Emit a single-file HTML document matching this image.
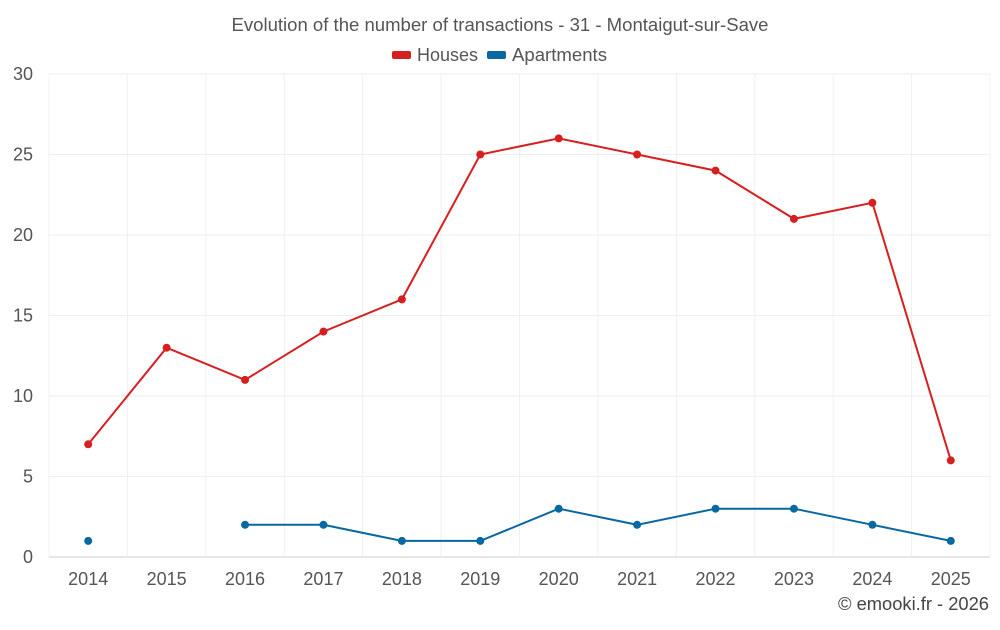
<!DOCTYPE html>
<html><head><meta charset="utf-8"><style>
body{margin:0;background:#fff;font-family:"Liberation Sans",sans-serif}
svg text{font-family:"Liberation Sans",sans-serif}
</style></head><body>
<svg id="chart" width="1000" height="625" xmlns="http://www.w3.org/2000/svg">
<text x="500" y="31" text-anchor="middle" font-size="18" fill="#555" textLength="537" lengthAdjust="spacingAndGlyphs">Evolution of the number of transactions - 31 - Montaigut-sur-Save</text>
<g><rect x="392" y="51" width="19" height="8" rx="2" fill="#d62020"/><text x="417" y="61" font-size="18" fill="#555" textLength="61" lengthAdjust="spacingAndGlyphs">Houses</text></g>
<g><rect x="487" y="51" width="19" height="8" rx="2" fill="#0868a0"/><text x="512" y="61" font-size="18" fill="#555" textLength="95" lengthAdjust="spacingAndGlyphs">Apartments</text></g>
<g id="grid"></g><g id="axes"></g><g id="series"></g>
<text x="989" y="610" text-anchor="end" font-size="18" fill="#444" textLength="151" lengthAdjust="spacingAndGlyphs">© emooki.fr - 2026</text>
</svg>
<script>
const categories=["2014","2015","2016","2017","2018","2019","2020","2021","2022","2023","2024","2025"];
const houses=[7,13,11,14,16,25,26,25,24,21,22,6];
const apartments=[1,null,2,2,1,1,3,2,3,3,2,1];
const yTicks=[0,5,10,15,20,25,30];
const L=49,R=990,T=74,B=557,yMax=30;
const bw=(R-L)/categories.length;
const x=i=>L+bw*(i+0.5);
const y=v=>B-(v/yMax)*(B-T);
const NS="http://www.w3.org/2000/svg";
function mk(tag,attrs,parent){const e=document.createElementNS(NS,tag);for(const k in attrs)e.setAttribute(k,attrs[k]);parent.appendChild(e);return e;}
const grid=document.getElementById('grid'),axes=document.getElementById('axes'),series=document.getElementById('series');
yTicks.forEach(t=>{
 const l=mk('line',{x1:L,x2:R,y1:y(t),y2:y(t),stroke:t===0?'#ccc':'#eee'},grid);
 
 
 const tx=mk('text',{x:33,y:y(t)+6,'text-anchor':'end','font-size':18,fill:'#555'},axes);
 tx.textContent=t;
 
 
});
for(let i=0;i<=categories.length;i++){
 const l=mk('line',{x1:L+bw*i,x2:L+bw*i,y1:T,y2:B,stroke:'#f0f0f0'},grid);
 
 
}
categories.forEach((c,i)=>{
 const tx=mk('text',{x:x(i),y:585,'text-anchor':'middle','font-size':18,fill:'#555'},axes);
 tx.textContent=c;
 
 
});
function draw(vals,color,name){
 let d='',pen=false;
 vals.forEach((v,i)=>{if(v==null){pen=false;return;}d+=(pen?'L':'M')+x(i)+','+y(v)+' ';pen=true;});
 const p=mk('path',{d:d,fill:'none',stroke:color,'stroke-width':2},series);
 
 
 vals.forEach((v,i)=>{if(v==null)return;
  const c=mk('circle',{cx:x(i),cy:y(v),r:4,fill:color},series);
  
  
 });
}
draw(houses,'#d62020','houses');
draw(apartments,'#0868a0','apartments');
</script>
</body></html>
